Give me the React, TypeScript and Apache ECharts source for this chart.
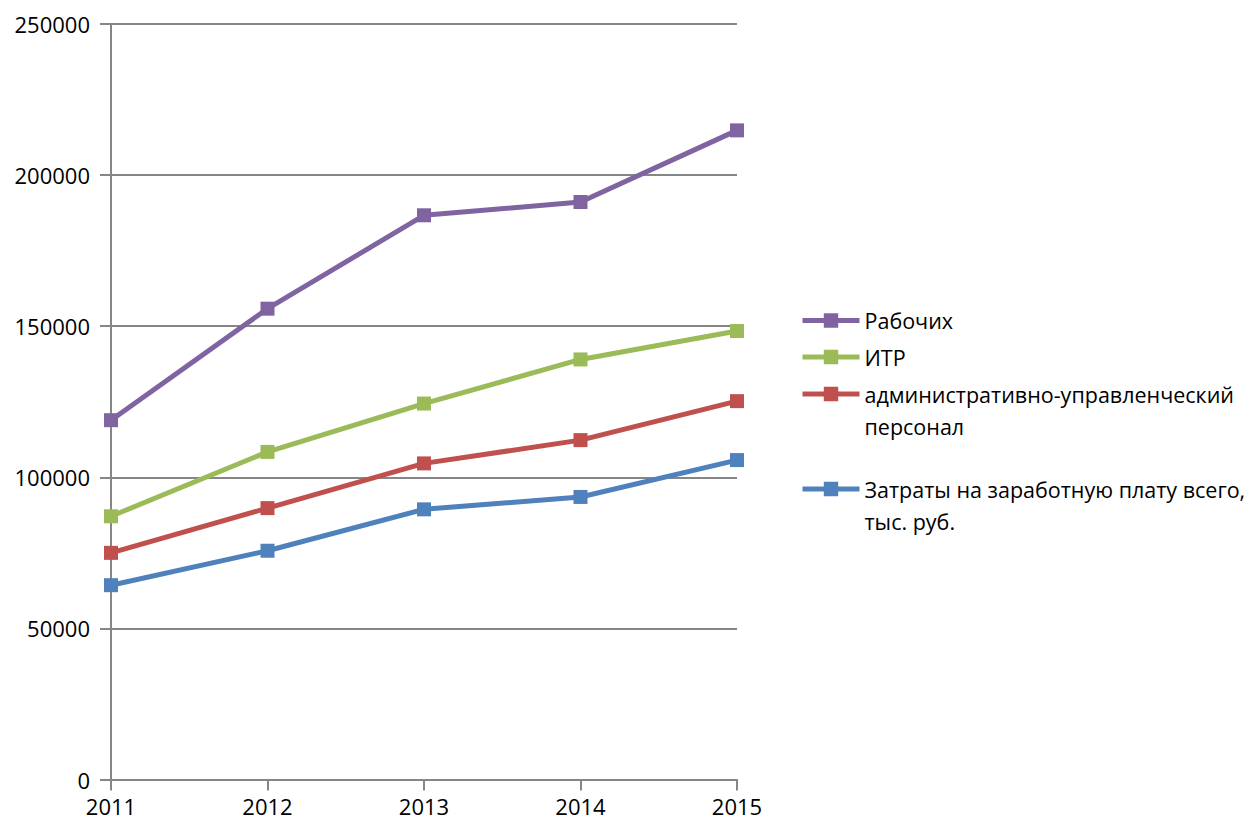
import React, { useEffect, useRef } from "react";
import * as echarts from "echarts";

const years = ["2011", "2012", "2013", "2014", "2015"];
const rabochih = [118900, 155800, 186700, 191100, 214800];
const itr = [87100, 108400, 124400, 139000, 148400];
const aup = [75000, 89800, 104600, 112300, 125200];
const total = [64300, 75700, 89400, 93500, 105700];

const seriesNames = [
  "Рабочих",
  "ИТР",
  "административно-управленческий персонал",
  "Затраты на заработную плату всего, тыс. руб.",
];
const legendLabels = [
  "Рабочих",
  "ИТР",
  "\nадминистративно-управленческий\nперсонал",
  "\nЗатраты на заработную плату всего,\nтыс. руб.",
];
const colors = ["#8064A2", "#9BBB59", "#C0504D", "#4F81BD"];
const legendTops = [304.5, 341, 346, 441];

const FONT = "Open Sans";
const FS = 22;
const LFS = 21.5;

export default function App() {
  const ref = useRef<HTMLDivElement>(null);
  useEffect(() => {
    if (!ref.current) return;
    const chart = echarts.init(ref.current, undefined, { renderer: "svg" });
    const datas = [rabochih, itr, aup, total];
    const legends = seriesNames.map((n, i) => ({
      orient: "vertical",
      left: 800,
      top: legendTops[i],
      padding: 0,
      itemWidth: 57,
      itemHeight: 18,
      data: [n],
      formatter: () => legendLabels[i],
      lineStyle: { width: 5 },
      textStyle: {
        fontFamily: FONT,
        fontSize: LFS,
        color: "#000",
        lineHeight: 32,
      },
    }));
    chart.setOption({
      animation: false,
      color: colors,
      legend: legends,
      grid: {
        left: 111,
        right: 517,
        top: 24,
        bottom: 45.5,
        containLabel: false,
        outerBoundsMode: "none",
      },
      xAxis: {
        type: "category",
        data: years,
        boundaryGap: false,
        axisLine: { lineStyle: { color: "#868686", width: 2 } },
        axisTick: { show: true, length: 11, lineStyle: { color: "#868686", width: 2 } },
        axisLabel: { color: "#000", fontFamily: FONT, fontSize: FS, margin: 15 },
        splitLine: { show: false },
      },
      yAxis: {
        type: "value",
        min: 0,
        max: 250000,
        interval: 50000,
        axisLine: { show: true, lineStyle: { color: "#868686", width: 2 } },
        axisTick: { show: true, length: 11, lineStyle: { color: "#868686", width: 2 } },
        axisLabel: {
          color: "#000",
          fontFamily: FONT,
          fontSize: FS,
          margin: 21,
          formatter: (v: number) => String(v),
        },
        splitLine: { show: true, lineStyle: { color: "#868686", width: 2 } },
      },
      series: seriesNames.map((n, i) => ({
        name: n,
        type: "line",
        data: datas[i],
        symbol: "rect",
        symbolSize: 14,
        showSymbol: true,
        lineStyle: { width: 5, color: colors[i] },
        itemStyle: { color: colors[i] },
        z: 10 - i,
      })),
    });
    return () => chart.dispose();
  }, []);
  return (
    <div
      ref={ref}
      style={{ position: "fixed", left: 0, top: 0, width: 1254, height: 825, background: "#fff" }}
    />
  );
}
